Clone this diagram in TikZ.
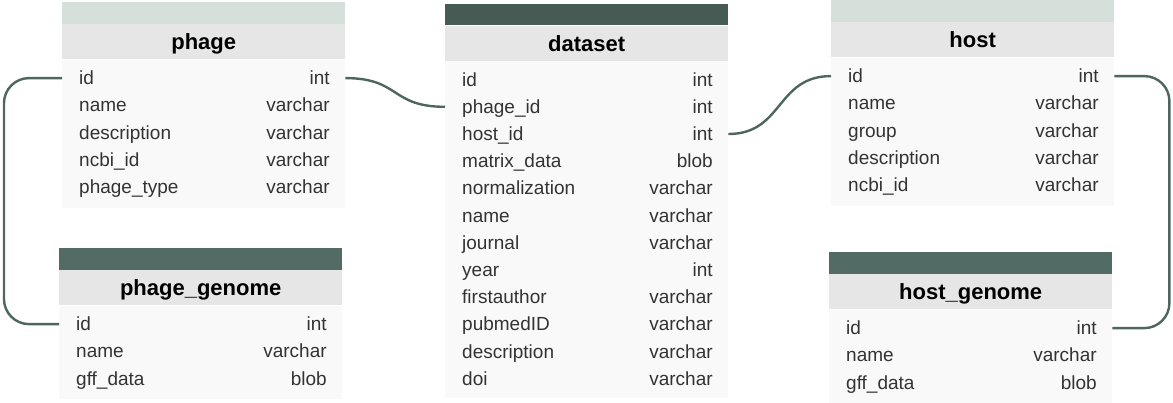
\documentclass[tikz,border=0pt]{standalone}
\usepackage{fontspec}
\setmainfont{Liberation Sans}
\usetikzlibrary{positioning}
\definecolor{barlight}{HTML}{D5E0DA}
\definecolor{bardark}{HTML}{465B54}
\definecolor{barmid}{HTML}{536B65}
\definecolor{titlegray}{HTML}{E6E6E6}
\definecolor{bodygray}{HTML}{F9F9F9}
\definecolor{linkgreen}{HTML}{4D6660}
\definecolor{fieldtext}{HTML}{333333}
\newcommand{\tablerow}[2]{\hbox to 283pt{\hskip17pt #1\hfill #2\hskip15.5pt}}

\begin{document}
\begin{tikzpicture}[x=1pt, y=1pt] %Schema de la base
        \tikzstyle{topbar} = [rectangle, minimum width=283pt, minimum height=21.5pt, inner sep=0pt, anchor=north west]
        \tikzstyle{titlebar} = [rectangle, fill=titlegray, minimum width=283pt, minimum height=35pt, inner sep=0pt, text height=19pt, text depth=3pt, font=\fontsize{22}{26}\selectfont\bfseries]
        \tikzstyle{bodybox} = [rectangle, fill=bodygray, minimum width=283pt, inner sep=0pt]
        \tikzstyle{row} = [rectangle, anchor=north, minimum height=27.2pt, inner sep=0pt, text height=16pt, text depth=3pt, text=fieldtext, font=\fontsize{19}{23}\selectfont]
        \tikzstyle{link} = [draw=linkgreen, line width=2.4pt]
        \useasboundingbox (0,0) rectangle (1173,-402);

        % phage
        \node[topbar, fill=barlight] (phageTop) at (62,-2) {};
        \node[titlebar, below=0pt of phageTop] (phageTitle) {phage};
        \node[bodybox, minimum height=148pt, below=0pt of phageTitle] (phageBody) {};
        \foreach \f/\t [count=\i] in {id/int, name/varchar, description/varchar, ncbi\_id/varchar, phage\_type/varchar}
        {
            \node[row] (phage\i) at ([yshift={-5pt-27.2pt*(\i-1)}]phageBody.north) {\tablerow{\f}{\t}};
        }

        % dataset
        \node[topbar, fill=bardark] (datasetTop) at (445,-3.5) {};
        \node[titlebar, below=0pt of datasetTop] (datasetTitle) {dataset};
        \node[bodybox, minimum height=337.4pt, below=0pt of datasetTitle] (datasetBody) {};
        \foreach \f/\t [count=\i] in {id/int, phage\_id/int, host\_id/int, matrix\_data/blob, normalization/varchar, name/varchar, journal/varchar, year/int, firstauthor/varchar, pubmedID/varchar, description/varchar, doi/varchar}
        {
            \node[row] (dataset\i) at ([yshift={-5pt-27.2pt*(\i-1)}]datasetBody.north) {\tablerow{\f}{\t}};
        }

        % host
        \node[topbar, fill=barlight] (hostTop) at (831,0) {};
        \node[titlebar, below=0pt of hostTop] (hostTitle) {host};
        \node[bodybox, minimum height=148pt, below=0pt of hostTitle] (hostBody) {};
        \foreach \f/\t [count=\i] in {id/int, name/varchar, group/varchar, description/varchar, ncbi\_id/varchar}
        {
            \node[row] (host\i) at ([yshift={-5pt-27.2pt*(\i-1)}]hostBody.north) {\tablerow{\f}{\t}};
        }

        % phage_genome
        \node[topbar, fill=barmid] (pgenomeTop) at (59,-248) {};
        \node[titlebar, below=0pt of pgenomeTop] (pgenomeTitle) {phage\_genome};
        \node[bodybox, minimum height=93pt, below=0pt of pgenomeTitle] (pgenomeBody) {};
        \foreach \f/\t [count=\i] in {id/int, name/varchar, gff\_data/blob}
        {
            \node[row] (pgenome\i) at ([yshift={-5pt-27.2pt*(\i-1)}]pgenomeBody.north) {\tablerow{\f}{\t}};
        }

        % host_genome
        \node[topbar, fill=barmid] (hgenomeTop) at (829,-252) {};
        \node[titlebar, below=0pt of hgenomeTop] (hgenomeTitle) {host\_genome};
        \node[bodybox, minimum height=93pt, below=0pt of hgenomeTitle] (hgenomeBody) {};
        \foreach \f/\t [count=\i] in {id/int, name/varchar, gff\_data/blob}
        {
            \node[row] (hgenome\i) at ([yshift={-5pt-27.2pt*(\i-1)}]hgenomeBody.north) {\tablerow{\f}{\t}};
        }

        % liens
        \draw[link] (phage1.east) .. controls +(55,0) and +(-55,0) .. (dataset2.west);
        \draw[link] (dataset3.east) .. controls +(55,0) and +(-55,0) .. (host1.west);
        \draw[link, rounded corners=25pt] (phage1.west) -- ++(-58,0) |- (pgenome1.west);
        \draw[link, rounded corners=25pt] (host1.east) -- ++(55,0) |- (hgenome1.east);
\end{tikzpicture}
\end{document}
